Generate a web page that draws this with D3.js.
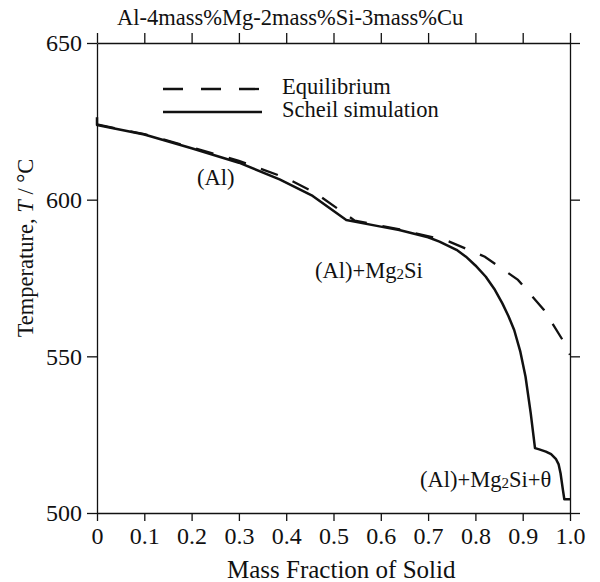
<!DOCTYPE html>
<html>
<head>
<meta charset="utf-8">
<script src="https://cdn.jsdelivr.net/npm/d3@7"></script>
<style>
  body { margin: 0; background: #fff; }
</style>
</head>
<body>
<svg id="chart"></svg>
<script>
// Scheil simulation (solid line): [mass fraction of solid, T in °C]
const scheilFs = [0, 0, 0.1, 0.2, 0.3, 0.386, 0.456, 0.527, 0.6, 0.639, 0.7, 0.724, 0.76, 0.78, 0.80, 0.822, 0.84, 0.857, 0.87, 0.882, 0.895, 0.906, 0.917, 0.926, 0.935, 0.949, 0.96, 0.970, 0.976, 0.980, 0.985, 0.988, 1.0];
const scheilT  = [626.3, 623.8, 620.8, 616.4, 611.8, 606.5, 601.2, 593.5, 591.4, 590.3, 588.0, 586.6, 584.0, 581.8, 579.0, 575.4, 571.5, 566.9, 562.8, 558.4, 551.5, 543.5, 531.8, 520.7, 520.3, 519.6, 518.8, 517.3, 515.5, 512.7, 507.4, 504.4, 504.4];

// Equilibrium (dashed line)
const equilFs = [0, 0.1, 0.2, 0.3, 0.4, 0.46, 0.545, 0.64, 0.742, 0.82, 0.89, 0.945, 0.991, 1.0];
const equilT  = [624.0, 620.9, 616.7, 612.4, 606.9, 602.3, 593.3, 590.5, 586.8, 581.8, 574.4, 564.8, 553.6, 550.5];

const xTicks = [0, 0.1, 0.2, 0.3, 0.4, 0.5, 0.6, 0.7, 0.8, 0.9, 1.0];
const xTickLabels = ["0", "0.1", "0.2", "0.3", "0.4", "0.5", "0.6", "0.7", "0.8", "0.9", "1.0"];
const yTicks = [500, 550, 600, 650];

const width = 600;
const height = 582;
const margin = { top: 43, right: 30, bottom: 69, left: 97 };
const serif = '"Liberation Serif", "Times New Roman", Times, "DejaVu Serif", serif';
const fontSize = 22.5;
const tickFont = 24;

const svg = d3.select('#chart')
  .attr('width', width)
  .attr('height', height)
  .attr('font-family', serif);

const x = d3.scaleLinear()
  .domain([0, 1])
  .range([margin.left, width - margin.right]);

const y = d3.scaleLinear()
  .domain([500, 650])
  .range([height - margin.bottom, margin.top]);

// axes on all four sides, ticks pointing outward
const styleAxis = g => {
  g.attr('font-family', serif);
  g.select('.domain').attr('stroke', '#111').attr('stroke-width', 1.3);
  g.selectAll('.tick line').attr('stroke', '#111').attr('stroke-width', 1.3);
  g.selectAll('text')
    .attr('font-size', tickFont)
    .attr('fill', '#111');
};

svg.append('g')
  .attr('transform', `translate(0, ${height - margin.bottom})`)
  .call(d3.axisBottom(x).tickValues(xTicks)
    .tickFormat((d, i) => xTickLabels[i])
    .tickSize(8).tickSizeOuter(0).tickPadding(6))
  .call(styleAxis);

svg.append('g')
  .attr('transform', `translate(0, ${margin.top})`)
  .call(d3.axisTop(x).tickValues(xTicks).tickFormat('')
    .tickSize(10).tickSizeOuter(0))
  .call(styleAxis);

svg.append('g')
  .attr('transform', `translate(${margin.left}, 0)`)
  .call(d3.axisLeft(y).tickValues(yTicks).tickFormat(d3.format('d'))
    .tickSize(10).tickSizeOuter(0).tickPadding(5))
  .call(styleAxis);

svg.append('g')
  .attr('transform', `translate(${width - margin.right}, 0)`)
  .call(d3.axisRight(y).tickValues(yTicks).tickFormat('')
    .tickSize(10).tickSizeOuter(0))
  .call(styleAxis);

// curves
const line = d3.line()
  .x(d => x(d[0]))
  .y(d => y(d[1]));

svg.append('path')
  .datum(equilFs.map((f, i) => [f, equilT[i]]))
  .attr('fill', 'none')
  .attr('stroke', '#111')
  .attr('stroke-width', 2.3)
  .attr('stroke-dasharray', '18,16')
  .attr('d', line);

svg.append('path')
  .datum(scheilFs.map((f, i) => [f, scheilT[i]]))
  .attr('fill', 'none')
  .attr('stroke', '#111')
  .attr('stroke-width', 2.5)
  .attr('stroke-linejoin', 'round')
  .attr('d', line);

const addText = (xPos, yPos, size = fontSize) => svg.append('text')
  .attr('x', xPos).attr('y', yPos)
  .attr('font-family', serif)
  .attr('font-size', size)
  .attr('fill', '#111');

// legend
svg.append('line')
  .attr('x1', 163).attr('x2', 262).attr('y1', 89).attr('y2', 89)
  .attr('stroke', '#111').attr('stroke-width', 2.3)
  .attr('stroke-dasharray', '20,18');
svg.append('line')
  .attr('x1', 163).attr('x2', 262).attr('y1', 112).attr('y2', 112)
  .attr('stroke', '#111').attr('stroke-width', 2.3);
addText(282, 94).text('Equilibrium');
addText(282, 117).text('Scheil simulation');

// title
addText(117, 25).text('Al-4mass%Mg-2mass%Si-3mass%Cu');

// phase labels
addText(197, 185).text('(Al)');

const mg = addText(315, 278);
mg.append('tspan').text('(Al)+Mg');
mg.append('tspan').attr('font-size', 15).attr('dy', 1).text('2');
mg.append('tspan').attr('dy', -1).text('Si');

const theta = addText(420, 487);
theta.append('tspan').text('(Al)+Mg');
theta.append('tspan').attr('font-size', 15).attr('dy', 1).text('2');
theta.append('tspan').attr('dy', -1).text('Si+θ');

// axis titles
addText(227, 578, 25).text('Mass Fraction of Solid');

const yLabel = addText(0, 0)
  .attr('transform', `translate(33, 248) rotate(-90)`)
  .attr('text-anchor', 'middle');
yLabel.append('tspan').text('Temperature, ');
yLabel.append('tspan').attr('font-style', 'italic').text('T');
yLabel.append('tspan').text(' / °C');
</script>
</body>
</html>
